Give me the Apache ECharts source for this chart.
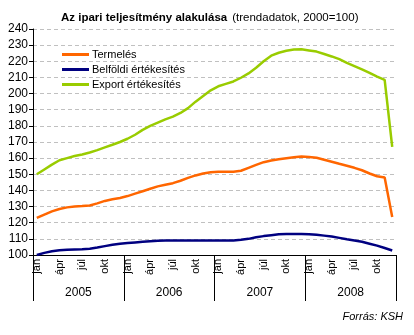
<!DOCTYPE html>
<html><head><meta charset="utf-8">
<script src="https://cdn.jsdelivr.net/npm/echarts@6/dist/echarts.min.js"></script>
<style>html,body{margin:0;padding:0;background:#fff}#c{width:414px;height:335px}</style>
</head><body><div id="c"></div>
<script>
var years = ['2005','2006','2007','2008'];
var monthNames = ['jan','feb','márc','ápr','máj','jún','júl','aug','szept','okt','nov','dec'];
var shownMonths = ['jan','ápr','júl','okt'];
var yTicks = [100,110,120,130,140,150,160,170,180,190,200,210,220,230,240];
var termeles = [123,125,127,128.5,129.5,130,130.3,130.7,132,133.5,134.5,135.3,
  136.5,138,139.5,141,142.5,143.5,144.5,146,147.8,149.3,150.5,151.2,
  151.6,151.6,151.6,152.2,154,155.8,157.5,158.5,159.3,160,160.5,161,
  160.7,160.2,159,157.8,156.5,155.3,154,152.5,150.5,148.8,148,123.5];
var belfoldi = [100,101.3,102.3,102.9,103.2,103.4,103.6,103.9,104.6,105.5,106.3,107,
  107.4,107.8,108.2,108.5,108.8,109,109,109,109,109,109,109,
  109,109,109,109.4,110,111,111.7,112.3,112.8,113,113,113,
  112.9,112.5,112,111.4,110.6,109.7,109,108.2,107,105.8,104.3,102.8];
var exportErt = [150,153,156,158.7,160,161.3,162.3,163.5,165,166.7,168.3,170,
  172,174.5,177.5,180,182,184,185.7,188,191,195,198.5,202,
  204.5,206,207.5,209.8,212.5,216,220,223.5,225.3,226.5,227.3,227.4,
  226.7,226,224.5,223,221.3,219,217,215,212.8,210.5,208.5,167];
var categories = [];
years.forEach(function(y){ monthNames.forEach(function(m){ categories.push(y+'-'+m); }); });

var font = 'Liberation Sans, Arial, sans-serif';
var chart = echarts.init(document.getElementById('c'), null, {renderer:'canvas'});
chart.setOption({
  animation:false,
  textStyle:{fontFamily:font},
  title:{
    text:'{b|Az ipari teljesítmény alakulása} {n|(trendadatok, 2000=100)}',
    left:61, top:9, padding:0,
    textStyle:{fontWeight:'normal', rich:{
      b:{fontFamily:font,fontWeight:'bold',fontSize:11.5,color:'#000'},
      n:{fontFamily:font,fontWeight:'normal',fontSize:11.5,color:'#000'}
    }}
  },
  legend:{
    orient:'vertical', left:62, top:48, itemGap:2, padding:0,
    icon:'rect', itemWidth:27, itemHeight:3,
    textStyle:{fontFamily:font,fontSize:11,color:'#000',lineHeight:13,padding:[0,0,0,-2]},
    data:['Termelés','Belföldi értékesítés','Export értékesítés']
  },
  graphic:[{type:'text', right:11, top:311,
    style:{text:'Forrás: KSH', font:'italic 11px '+font, fill:'#000'}}],
  grid:{left:33, right:18, top:29, bottom:80},
  xAxis:[{
    type:'category', data:categories, boundaryGap:true,
    axisLine:{lineStyle:{color:'#000',width:1}},
    axisTick:{show:false},
    axisLabel:{interval:0, rotate:90, margin:4, fontSize:11, color:'#000', fontFamily:font,
      formatter:function(v){ var m=v.split('-')[1]; return shownMonths.indexOf(m)>=0 ? m : ''; }}
  },{
    type:'category', data:years, position:'bottom', boundaryGap:true,
    axisLine:{show:false},
    axisTick:{show:true, length:46, interval:0, lineStyle:{color:'#000'}},
    axisLabel:{margin:32, fontSize:12, color:'#000', fontFamily:font}
  }],
  yAxis:{
    type:'value', min:100, max:240, interval:10,
    axisLine:{show:true, lineStyle:{color:'#000'}},
    axisTick:{show:true, length:4, lineStyle:{color:'#000'}},
    axisLabel:{fontSize:12, color:'#000', margin:5, fontFamily:font},
    splitLine:{lineStyle:{color:'#c0c0c0', type:[4,3]}}
  },
  series:[
    {name:'Termelés', type:'line', data:termeles, symbol:'none', lineStyle:{color:'#FF6600',width:2.5}, itemStyle:{color:'#FF6600'}},
    {name:'Belföldi értékesítés', type:'line', data:belfoldi, symbol:'none', lineStyle:{color:'#000080',width:2.5}, itemStyle:{color:'#000080'}},
    {name:'Export értékesítés', type:'line', data:exportErt, symbol:'none', lineStyle:{color:'#99CC00',width:2.5}, itemStyle:{color:'#99CC00'}}
  ]
});
</script></body></html>
